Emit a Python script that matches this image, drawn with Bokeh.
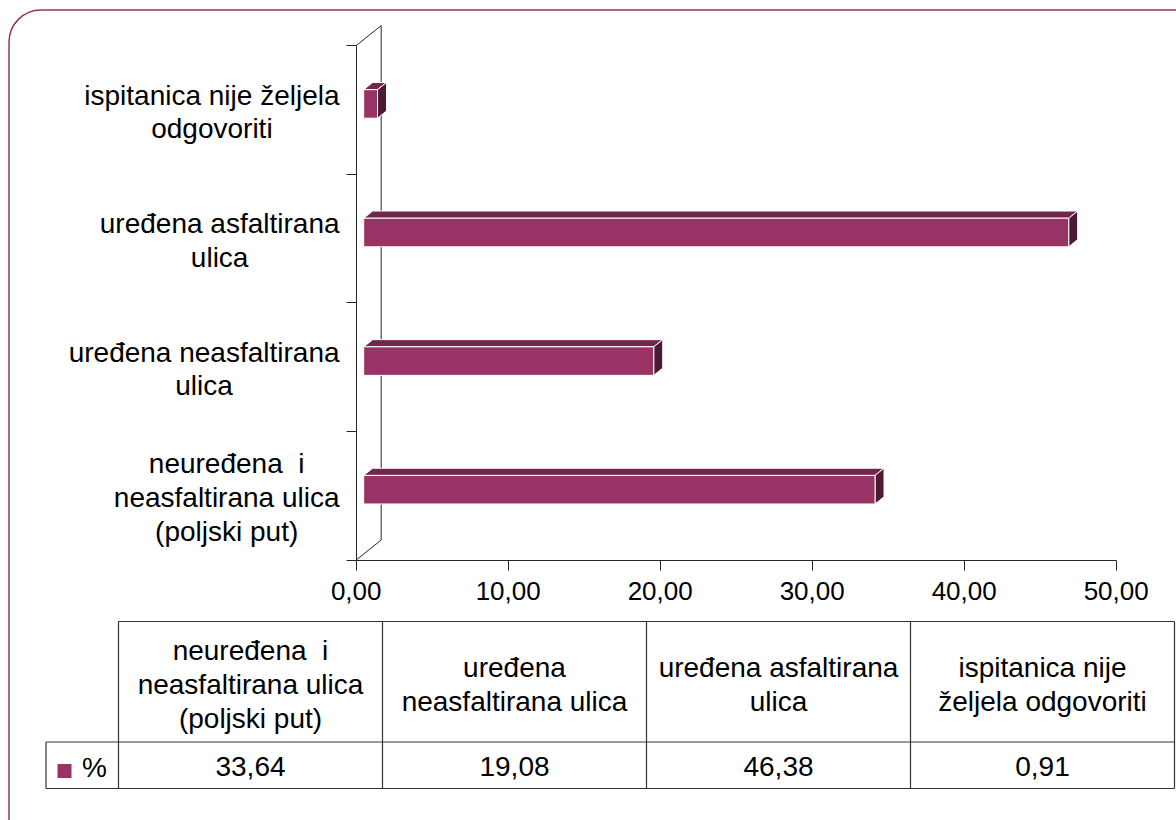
from bokeh.plotting import figure
from bokeh.models import FixedTicker, CustomJSTickFormatter, BoxAnnotation
from bokeh.core.properties import value
from bokeh.embed import file_html
from bokeh.resources import INLINE

# ---------------- data ----------------
categories = [
    "neuređena  i neasfaltirana ulica (poljski put)",
    "uređena neasfaltirana ulica",
    "uređena asfaltirana ulica",
    "ispitanica nije željela odgovoriti",
]
values = [33.64, 19.08, 46.38, 0.91]
axis_labels = [
    "neuređena \u00a0i\nneasfaltirana ulica\n(poljski put)",
    "uređena neasfaltirana\nulica",
    "uređena asfaltirana\nulica",
    "ispitanica nije željela\nodgovoriti",
]
table_labels = [
    "neuređena \u00a0i\nneasfaltirana ulica\n(poljski put)",
    "uređena\nneasfaltirana ulica",
    "uređena asfaltirana\nulica",
    "ispitanica nije\nželjela odgovoriti",
]
x_ticks = [0, 10, 20, 30, 40, 50]
series_name = "%"

# ---------------- layout (page pixels) ----------------
W, H = 1176, 820
PAGE = 0
X0, PXX = 355.7, 15.2      # value 0 position / px per unit
Y0, PXY = 559.5, 128.6     # category base / px per category
FONT = value("Liberation Sans")
FS = 28
LH = 1.09
COLOR_FRONT = "#993366"
COLOR_TOP = "#73264d"
COLOR_SIDE = "#4d1a33"
LINE_C = "#262626"


def X(px):
    return (px - X0) / PXX


def Y(py):
    return (Y0 - py) / PXY


# approximate Arial / Liberation Sans advance widths (per 1000 em)
CW = {" ": 278, "\u00a0": 278, "(": 333, ")": 333, "a": 556, "b": 556, "c": 500, "d": 556,
      "e": 556, "f": 278, "g": 556, "h": 556, "i": 222, "j": 222, "k": 500, "l": 222,
      "m": 833, "n": 556, "o": 556, "p": 556, "r": 333, "s": 500, "t": 278, "u": 556,
      "v": 500, "z": 500, "ž": 500, "đ": 556}


def text_w(s, fs=FS):
    return max(sum(CW.get(c, 556) for c in line) for line in s.split("\n")) * fs / 1000.0


p = figure(width=W, height=H,
           x_range=(X(PAGE), X(PAGE + W)), y_range=(Y(PAGE + H), Y(PAGE)),
           output_backend="svg", toolbar_location=None, min_border=0,
           background_fill_color="white", border_fill_color="white")
p.outline_line_color = None
p.xgrid.visible = False
p.ygrid.visible = False

n = len(categories)

# depth vector of the 3-D wall (in data units)
DX, DY = 25 / PXX, 20 / PXY
F_OFF = 0.30     # bar front position within depth
B_DEP = 0.36     # bar depth
HALF = 0.111     # half bar height (category units)

# x axis
xa = p.xaxis[0]
xa.fixed_location = 0
xa.ticker = FixedTicker(ticks=x_ticks)
xa.bounds = (x_ticks[0], x_ticks[-1])
xa.formatter = CustomJSTickFormatter(code="return tick.toFixed(2).replace('.', ',')")
xa.major_tick_out = 10
xa.major_tick_in = 0
xa.minor_tick_line_color = None
xa.axis_line_color = LINE_C
xa.major_tick_line_color = LINE_C
xa.major_label_text_font = "Liberation Sans"
xa.major_label_text_font_size = "26px"
xa.major_label_text_color = "black"
xa.major_label_standoff = 12

# y axis (ticks at category boundaries)
ya = p.yaxis[0]
ya.fixed_location = 0
ya.ticker = FixedTicker(ticks=list(range(n + 1)))
ya.bounds = (0, n)
ya.formatter = CustomJSTickFormatter(code="return ''")
ya.major_tick_out = 10
ya.major_tick_in = 0
ya.minor_tick_line_color = None
ya.axis_line_color = LINE_C
ya.major_tick_line_color = LINE_C

# back wall lines
p.segment(x0=[0, 0, DX], y0=[0, n, DY], x1=[DX, DX, DX], y1=[DY, n + DY, n + DY],
          line_color=LINE_C, line_width=1)

# 3-D bars
fx, fy = F_OFF * DX, F_OFF * DY
bdx, bdy = B_DEP * DX, B_DEP * DY
front_xs, front_ys, top_xs, top_ys, side_xs, side_ys = [], [], [], [], [], []
for i, v in enumerate(values):
    yc = i + 0.5 + fy
    x0, x1 = fx, fx + v
    y0, y1 = yc - HALF, yc + HALF
    front_xs.append([x0, x1, x1, x0]); front_ys.append([y0, y0, y1, y1])
    top_xs.append([x0, x1, x1 + bdx, x0 + bdx]); top_ys.append([y1, y1, y1 + bdy, y1 + bdy])
    side_xs.append([x1, x1 + bdx, x1 + bdx, x1]); side_ys.append([y0, y0 + bdy, y1 + bdy, y1])
p.patches(top_xs, top_ys, fill_color=COLOR_TOP, line_color="white", line_width=1)
p.patches(side_xs, side_ys, fill_color=COLOR_SIDE, line_color="white", line_width=1)
p.patches(front_xs, front_ys, fill_color=COLOR_FRONT, line_color="white", line_width=1)

# category labels (right-aligned block, centered lines)
LABEL_RIGHT = 339
p.text(x=[X(LABEL_RIGHT - text_w(s) / 2) for s in axis_labels],
       y=[i + 0.5 - 2 / PXY for i in range(n)], text=axis_labels,
       text_font=FONT, text_font_size=f"{FS}px", text_align="center",
       text_baseline="middle", text_line_height=LH, text_color="black")

# data table
T_LEFT, COL_W, LEG_LEFT = 118, 264, 45.5
T_TOP, T_MID, T_BOT = 621, 741.5, 788
T_RIGHT = T_LEFT + COL_W * n
hx0 = [X(T_LEFT), X(LEG_LEFT), X(LEG_LEFT)]
hx1 = [X(T_RIGHT)] * 3
hy = [Y(T_TOP), Y(T_MID), Y(T_BOT)]
p.segment(x0=hx0, y0=hy, x1=hx1, y1=hy, line_color="#333333", line_width=1.2)
vx = [X(LEG_LEFT)] + [X(T_LEFT + COL_W * k) for k in range(n + 1)]
vy0 = [Y(T_MID)] + [Y(T_TOP)] * (n + 1)
vy1 = [Y(T_BOT)] * (n + 2)
p.segment(x0=vx, y0=vy0, x1=vx, y1=vy1, line_color="#333333", line_width=1.2)

col_cx = [X(T_LEFT + COL_W * (k + 0.5)) for k in range(n)]
p.text(x=col_cx, y=[Y((T_TOP + T_MID) / 2 + 3)] * n, text=table_labels,
       text_font=FONT, text_font_size=f"{FS}px", text_align="center",
       text_baseline="middle", text_line_height=LH, text_color="black")
p.text(x=col_cx, y=[Y((T_MID + T_BOT) / 2 + 1)] * n,
       text=[f"{v:.2f}".replace(".", ",") for v in values],
       text_font=FONT, text_font_size=f"{FS}px", text_align="center",
       text_baseline="middle", text_color="black")

# legend key in table
p.scatter(x=[X(64)], y=[Y(770.5)], marker="square", size=14,
          fill_color=COLOR_FRONT, line_color=None)
p.text(x=[X(81.5)], y=[Y(767)], text=[series_name], text_font=FONT,
       text_font_size=f"{FS}px", text_align="left", text_baseline="middle",
       text_color="black")

# rounded chart border
p.add_layout(BoxAnnotation(left=X(8.5), right=X(1240), top=Y(9.5), bottom=Y(900),
                           fill_color=None, fill_alpha=0, line_color="#993366",
                           line_alpha=1.0, line_width=1.5,
                           border_radius=32, level="underlay"))

open("out.html", "w").write(file_html(p, INLINE))
